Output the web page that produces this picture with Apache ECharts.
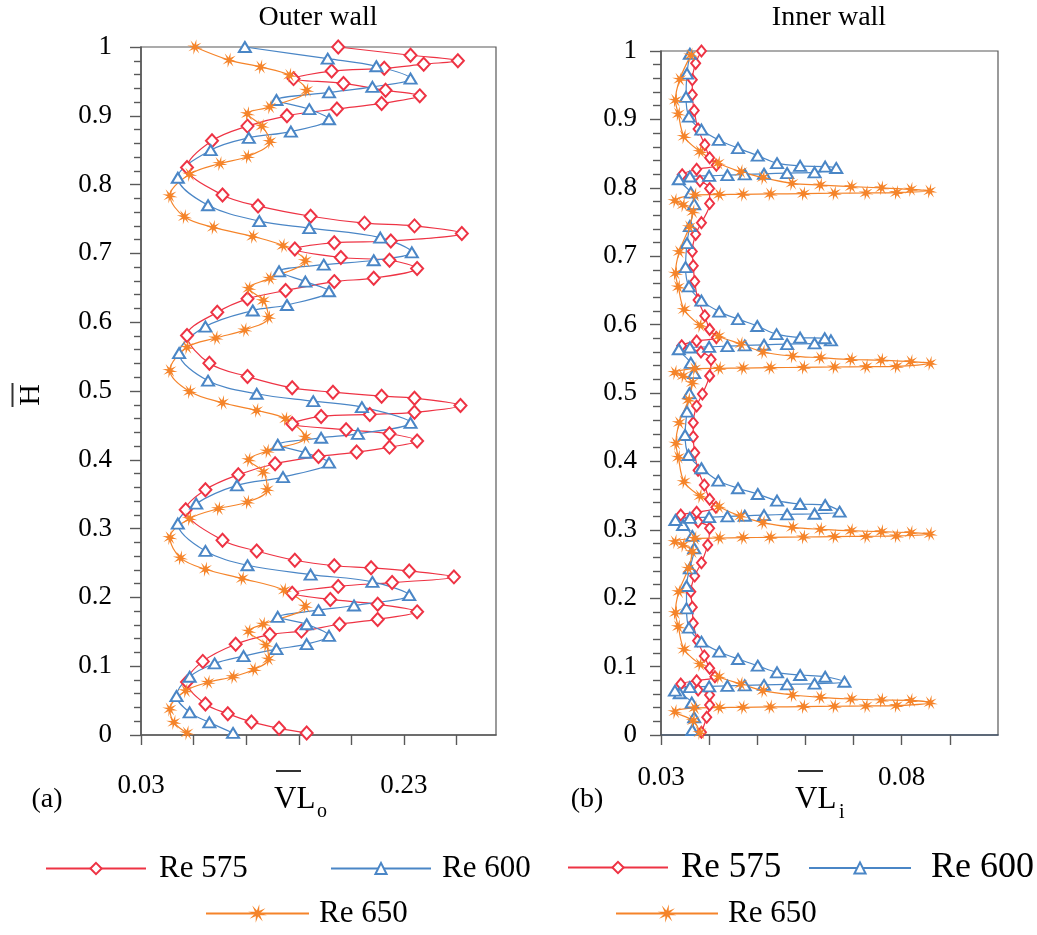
<!DOCTYPE html>
<html><head><meta charset="utf-8">
<script src="https://cdn.jsdelivr.net/npm/echarts@6/dist/echarts.min.js"></script>
<style>html,body{margin:0;padding:0;background:#fff}#c{width:1037px;height:935px}</style>
</head><body><div id="c"></div>
<script>
// ---------- DATA ----------
const seriesNames = ['Re 575', 'Re 600', 'Re 650'];
const outerXTicks = [0.03, 0.07, 0.11, 0.15, 0.19, 0.23, 0.27];
const outerXLabels = [0.03, 0.23];
const innerXTicks = [0.03, 0.04, 0.05, 0.06, 0.07, 0.08, 0.09];
const innerXLabels = [0.03, 0.08];

// Outer wall (panel a): H (vertical) and VL_o (horizontal)
const outerRe575H = [0.003,0.0097,0.019,0.031,0.045,0.077,0.107,0.132,0.146,0.151,0.161,0.168,0.179,0.190,0.197,0.206,0.216,0.2216,0.2298,0.2385,0.243,0.246,0.254,0.2675,0.283,0.3275,0.3566,0.3783,0.3943,0.4049,0.4112,0.4184,0.4272,0.4379,0.4437,0.4524,0.463,0.4659,0.469,0.479,0.4896,0.4925,0.4983,0.5046,0.521,0.5404,0.5806,0.6145,0.634,0.646,0.659,0.664,0.678,0.690,0.694,0.7063,0.7155,0.718,0.729,0.740,0.744,0.754,0.769,0.785,0.8248,0.8636,0.885,0.900,0.910,0.918,0.929,0.937,0.947,0.954,0.965,0.969,0.975,0.980,0.988,1.0];
const outerRe575V = [0.156,0.135,0.114,0.096,0.079,0.065,0.077,0.102,0.128,0.152,0.181,0.210,0.240,0.210,0.174,0.145,0.180,0.221,0.268,0.234,0.205,0.177,0.147,0.118,0.092,0.064,0.079,0.104,0.132,0.165,0.194,0.219,0.240,0.219,0.186,0.145,0.167,0.204,0.238,0.273,0.238,0.213,0.176,0.145,0.111,0.082,0.065,0.088,0.111,0.140,0.177,0.207,0.240,0.219,0.182,0.147,0.177,0.220,0.274,0.238,0.200,0.159,0.119,0.092,0.065,0.084,0.111,0.141,0.179,0.213,0.242,0.216,0.184,0.146,0.175,0.215,0.245,0.271,0.235,0.180];
const outerRe600H = [0.003,0.0184,0.0329,0.0566,0.0847,0.104,0.1147,0.1248,0.1321,0.1442,0.161,0.1717,0.1814,0.1882,0.2032,0.2225,0.2332,0.2467,0.2675,0.3072,0.3363,0.3628,0.3749,0.3958,0.4103,0.4219,0.432,0.4378,0.4537,0.4765,0.4852,0.496,0.515,0.555,0.5936,0.617,0.625,0.645,0.659,0.674,0.6836,0.690,0.7015,0.723,0.7368,0.747,0.770,0.810,0.850,0.868,0.877,0.895,0.9096,0.923,0.934,0.942,0.954,0.972,0.983,1.0];
const outerRe600V = [0.100,0.082,0.067,0.057,0.067,0.086,0.108,0.133,0.156,0.173,0.156,0.134,0.165,0.192,0.234,0.206,0.159,0.111,0.079,0.058,0.072,0.103,0.138,0.173,0.155,0.134,0.167,0.195,0.235,0.198,0.161,0.118,0.081,0.059,0.079,0.115,0.141,0.173,0.155,0.135,0.169,0.207,0.236,0.212,0.158,0.120,0.081,0.058,0.083,0.112,0.144,0.173,0.158,0.133,0.173,0.206,0.235,0.209,0.172,0.109];
const outerRe650H = [0.003,0.0184,0.0377,0.0643,0.0765,0.0847,0.0953,0.1103,0.1306,0.1509,0.1611,0.1872,0.2104,0.2274,0.2409,0.2574,0.2869,0.3145,0.329,0.3386,0.3566,0.3822,0.4001,0.4126,0.4329,0.4596,0.4717,0.4829,0.4993,0.5298,0.5636,0.5771,0.5888,0.6071,0.6313,0.6492,0.6637,0.6894,0.7112,0.7247,0.7378,0.7533,0.7837,0.815,0.8306,0.8408,0.8626,0.885,0.903,0.913,0.937,0.959,0.971,0.981,1.0];
const outerRe650V = [0.065,0.055,0.052,0.064,0.081,0.100,0.116,0.127,0.125,0.112,0.123,0.155,0.139,0.107,0.079,0.060,0.052,0.067,0.089,0.111,0.126,0.123,0.112,0.126,0.155,0.140,0.118,0.092,0.067,0.052,0.065,0.087,0.109,0.127,0.123,0.112,0.128,0.155,0.138,0.115,0.085,0.063,0.052,0.067,0.090,0.111,0.128,0.122,0.111,0.128,0.156,0.143,0.121,0.097,0.071];

// Inner wall (panel b): H (vertical) and VL_i (horizontal)
const innerRe575H = [0.004,0.0259,0.0439,0.0585,0.0658,0.0746,0.0794,0.0852,0.0975,0.1155,0.1379,0.1633,0.1867,0.2095,0.2325,0.2519,0.2778,0.3022,0.3119,0.3216,0.3256,0.3329,0.3446,0.3655,0.387,0.4127,0.436,0.4566,0.481,0.4985,0.525,0.549,0.560,0.569,0.576,0.581,0.593,0.613,0.636,0.663,0.686,0.707,0.732,0.749,0.777,0.799,0.810,0.819,0.827,0.833,0.844,0.863,0.886,0.913,0.936,0.958,0.982,1.0];
const innerRe575V = [0.0384,0.0395,0.0401,0.0401,0.0377,0.0341,0.0374,0.0412,0.0401,0.0390,0.0376,0.0367,0.0365,0.0362,0.0370,0.0384,0.0397,0.0401,0.0377,0.0341,0.0374,0.0414,0.0401,0.0390,0.0377,0.0370,0.0367,0.0367,0.0374,0.0386,0.0401,0.0404,0.0383,0.0343,0.0374,0.0415,0.0401,0.0391,0.0377,0.0370,0.0367,0.0365,0.0372,0.0384,0.0401,0.0401,0.0381,0.0344,0.0374,0.0415,0.0401,0.0391,0.0377,0.0369,0.0365,0.0365,0.0372,0.0384];
const innerRe600H = [0.0073,0.0259,0.0473,0.061,0.0648,0.0700,0.0710,0.0718,0.0725,0.0732,0.0740,0.0750,0.0779,0.0852,0.0877,0.0916,0.1013,0.1111,0.1218,0.1364,0.1569,0.1852,0.2178,0.2437,0.273,0.291,0.307,0.3143,0.3175,0.3185,0.3195,0.3205,0.3215,0.3225,0.3235,0.3265,0.3363,0.3377,0.3426,0.3523,0.3607,0.3718,0.390,0.4094,0.4386,0.4727,0.4995,0.529,0.544,0.564,0.5665,0.5675,0.5685,0.5695,0.5705,0.5715,0.5725,0.577,0.580,0.581,0.586,0.598,0.608,0.619,0.635,0.656,0.684,0.719,0.744,0.776,0.793,0.8125,0.8165,0.8175,0.8185,0.8195,0.8205,0.8215,0.8225,0.829,0.831,0.832,0.836,0.847,0.858,0.870,0.885,0.904,0.933,0.967,0.996];
const innerRe600V = [0.0365,0.0369,0.0364,0.0339,0.0329,0.0360,0.0400,0.0438,0.0474,0.0514,0.0562,0.0619,0.0681,0.0641,0.0589,0.0541,0.0501,0.0460,0.0421,0.0384,0.0358,0.0353,0.0353,0.0360,0.0369,0.0365,0.0346,0.0330,0.0360,0.0400,0.0438,0.0474,0.0514,0.0562,0.0619,0.0671,0.0641,0.0589,0.0541,0.0501,0.0460,0.0419,0.0384,0.0357,0.0350,0.0354,0.0359,0.0369,0.0362,0.0337,0.0360,0.0400,0.0438,0.0474,0.0514,0.0562,0.0619,0.0653,0.0640,0.0589,0.0540,0.0500,0.0460,0.0421,0.0384,0.0358,0.0351,0.0354,0.0360,0.0369,0.0362,0.0337,0.0360,0.0400,0.0438,0.0474,0.0514,0.0562,0.0619,0.0664,0.0641,0.0589,0.0541,0.0501,0.0460,0.0420,0.0384,0.0358,0.0352,0.0354,0.0360];
const innerRe650H = [0.0034,0.0209,0.034,0.0395,0.040,0.0405,0.041,0.0415,0.042,0.0425,0.043,0.0472,0.0505,0.0512,0.0526,0.0551,0.0585,0.0648,0.0746,0.0852,0.1034,0.1253,0.1583,0.1788,0.2095,0.2437,0.268,0.2778,0.2826,0.2875,0.288,0.2885,0.289,0.2895,0.290,0.2905,0.291,0.2939,0.2958,0.2972,0.2987,0.3007,0.3036,0.3104,0.320,0.3338,0.3494,0.3703,0.406,0.4265,0.4566,0.4898,0.515,0.525,0.530,0.5355,0.536,0.5365,0.537,0.5375,0.538,0.5385,0.539,0.5434,0.5458,0.548,0.549,0.5516,0.554,0.560,0.5716,0.583,0.599,0.622,0.655,0.675,0.7066,0.743,0.765,0.775,0.7811,0.7895,0.790,0.7905,0.791,0.7915,0.792,0.7925,0.793,0.7953,0.7977,0.800,0.8016,0.804,0.8066,0.815,0.8236,0.836,0.853,0.875,0.908,0.928,0.9586,0.994];
const innerRe650V = [0.0381,0.0367,0.0329,0.0370,0.0421,0.0470,0.0527,0.0596,0.0660,0.0726,0.0789,0.0859,0.0819,0.0758,0.0695,0.0631,0.0573,0.0512,0.0466,0.0420,0.0381,0.0348,0.0336,0.0330,0.0337,0.0357,0.0365,0.0346,0.0329,0.0370,0.0421,0.0470,0.0527,0.0596,0.0660,0.0726,0.0789,0.0859,0.0819,0.0758,0.0695,0.0631,0.0573,0.0512,0.0465,0.0420,0.0381,0.0348,0.0336,0.0331,0.0338,0.0357,0.0365,0.0346,0.0329,0.0370,0.0421,0.0470,0.0527,0.0596,0.0660,0.0726,0.0789,0.0859,0.0819,0.0758,0.0695,0.0631,0.0573,0.0512,0.0466,0.0420,0.0381,0.0348,0.0336,0.0330,0.0338,0.0359,0.0366,0.0346,0.0329,0.0370,0.0421,0.0470,0.0527,0.0596,0.0660,0.0726,0.0789,0.0858,0.0819,0.0758,0.0695,0.0631,0.0572,0.0512,0.0466,0.0419,0.0381,0.0348,0.0336,0.0330,0.0339,0.0362];

// ---------- STYLE ----------
const FONT = 'Liberation Serif';
const RED = '#EE3344', BLUE = '#4A86C6', ORANGE = '#F5842A';
const AXIS = '#595959';

function starPath() {
  let d = '';
  for (let i = 0; i < 16; i++) {
    const a = Math.PI * i / 8 + Math.PI / 16;
    const r = i % 2 === 0 ? 10 : 3.2;
    d += (i === 0 ? 'M' : 'L') + (10 + r * Math.cos(a)).toFixed(2) + ' ' + (10 + r * Math.sin(a)).toFixed(2) + ' ';
  }
  return 'path://' + d + 'Z';
}
const STAR = starPath();
const pairs = (H, V) => H.map((h, i) => [V[i], h]);

function mkSeries(name, H, V, idx, color, symbol, size) {
  return {
    name, type: 'line', xAxisIndex: idx, yAxisIndex: idx,
    data: pairs(H, V), smooth: 0.35, clip: false,
    symbol, symbolSize: size, showAllSymbol: true,
    lineStyle: { color, width: 1.2 },
    itemStyle: { color, borderColor: color, borderWidth: 1.1 },
    emphasis: { disabled: true }, animation: false, z: 3
  };
}

function yAxis(grid, margin, minorLen) {
  return {
    type: 'value', gridIndex: grid, min: 0, max: 1, interval: 0.1,
    axisLine: { show: true, lineStyle: { color: AXIS, width: 1.6 } },
    axisTick: { show: true, inside: false, length: 11, lineStyle: { color: AXIS, width: 1.4 } },
    minorTick: { show: true, splitNumber: 5, length: minorLen, lineStyle: { color: AXIS, width: 1.4 } },
    splitLine: { show: false },
    axisLabel: { margin, fontFamily: FONT, fontSize: 27, color: '#000' }
  };
}
function xAxis(grid, min, max, ticks, labels, margin, lineColor) {
  return {
    type: 'value', gridIndex: grid, min, max,
    axisLine: { show: true, onZero: false, lineStyle: { color: lineColor, width: 1.6 } },
    axisTick: { show: true, length: 10, customValues: ticks, lineStyle: { color: AXIS, width: 1.4 } },
    splitLine: { show: false },
    axisLabel: { customValues: labels, margin, fontFamily: FONT, fontSize: 27, color: '#000',
      formatter: v => v.toFixed(2) }
  };
}

function legendItem(name, left, top, w, h, fs, pad) {
  return {
    data: [name], left, top, padding: 0, itemWidth: w, itemHeight: h, selectedMode: false,
    textStyle: { fontFamily: FONT, fontSize: fs, color: '#000', padding: [0, 0, 0, pad] }
  };
}

const chart = echarts.init(document.getElementById('c'), null, { renderer: 'canvas' });
chart.setOption({
  animation: false,
  backgroundColor: '#fff',
  grid: [
    { left: 141, top: 47, width: 355, height: 688, show: true, borderColor: AXIS, borderWidth: 1.2, backgroundColor: 'transparent' },
    { left: 661, top: 51, width: 337, height: 684, show: true, borderColor: AXIS, borderWidth: 1.2, backgroundColor: 'transparent' }
  ],
  xAxis: [
    xAxis(0, 0.03, 0.30, outerXTicks, outerXLabels, 37, AXIS),
    xAxis(1, 0.03, 0.10, innerXTicks, innerXLabels, 29, '#44546A')
  ],
  yAxis: [yAxis(0, 29, 7), yAxis(1, 24, 8)],
  legend: [
    legendItem('Re 575', 45, 853, 100, 14, 31, 8),
    legendItem('Re 600', 330, 853, 100, 14, 31, 6),
    legendItem('Re 575', 567, 850, 100, 14, 35, 8),
    legendItem('Re 600', 808, 850, 102, 14, 36, 15),
    legendItem('Re 650', 205, 898, 103, 9, 31, 5),
    legendItem('Re 650', 615, 898, 102, 9, 31, 5)
  ],
  series: [
    mkSeries('Re 575', outerRe575H, outerRe575V, 0, RED, 'emptyDiamond', [12, 13]),
    mkSeries('Re 600', outerRe600H, outerRe600V, 0, BLUE, 'emptyTriangle', [12, 10]),
    mkSeries('Re 650', outerRe650H, outerRe650V, 0, ORANGE, STAR, 9),
    mkSeries('Re 575', innerRe575H, innerRe575V, 1, RED, 'emptyDiamond', [9, 11]),
    mkSeries('Re 600', innerRe600H, innerRe600V, 1, BLUE, 'emptyTriangle', [12, 10]),
    mkSeries('Re 650', innerRe650H, innerRe650V, 1, ORANGE, STAR, 9)
  ],
  graphic: [
    { type: 'text', x: 318, y: 18, style: { text: 'Outer wall', font: '28px ' + FONT, fill: '#000', align: 'center', verticalAlign: 'middle' } },
    { type: 'text', x: 829, y: 18, style: { text: 'Inner wall', font: '28px ' + FONT, fill: '#000', align: 'center', verticalAlign: 'middle' } },
    { type: 'text', x: 47, y: 800, style: { text: '(a)', font: '28px ' + FONT, fill: '#000', align: 'center', verticalAlign: 'middle' } },
    { type: 'text', x: 587, y: 800, style: { text: '(b)', font: '28px ' + FONT, fill: '#000', align: 'center', verticalAlign: 'middle' } },
    { type: 'text', x: 274, y: 800, style: { text: 'VL', font: '31px ' + FONT, fill: '#000', align: 'left', verticalAlign: 'middle' } },
    { type: 'text', x: 317, y: 812, style: { text: 'o', font: '20px ' + FONT, fill: '#000', align: 'left', verticalAlign: 'middle' } },
    { type: 'line', shape: { x1: 276, y1: 771, x2: 301, y2: 771 }, style: { stroke: '#333', lineWidth: 2 } },
    { type: 'text', x: 795, y: 800, style: { text: 'VL', font: '31px ' + FONT, fill: '#000', align: 'left', verticalAlign: 'middle' } },
    { type: 'text', x: 839, y: 813, style: { text: 'i', font: '20px ' + FONT, fill: '#000', align: 'left', verticalAlign: 'middle' } },
    { type: 'line', shape: { x1: 798, y1: 771, x2: 823, y2: 771 }, style: { stroke: '#333', lineWidth: 2 } },
    { type: 'text', x: 31, y: 395, rotation: Math.PI / 2, style: { text: 'H', font: '30px ' + FONT, fill: '#000', align: 'center', verticalAlign: 'middle' } },
    { type: 'line', shape: { x1: 12.5, y1: 383, x2: 12.5, y2: 407 }, style: { stroke: '#333', lineWidth: 2 } }
  ]
});
</script>
</body></html>
